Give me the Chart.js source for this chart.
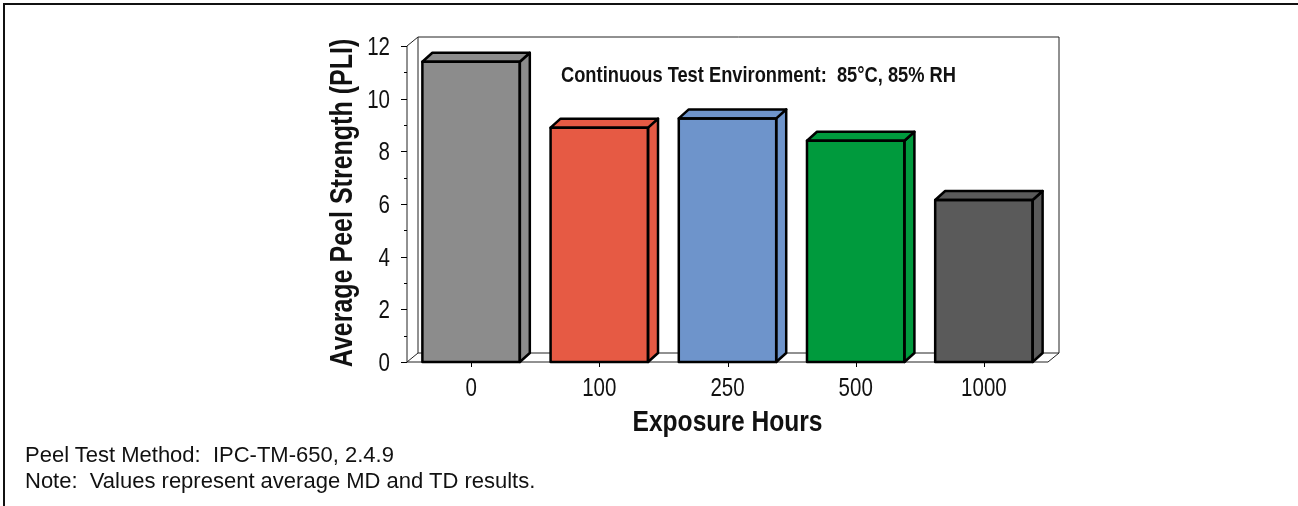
<!DOCTYPE html>
<html>
<head>
<meta charset="utf-8">
<script src="https://cdn.jsdelivr.net/npm/chart.js@4.4.1/dist/chart.umd.min.js"></script>
<style>
  html, body { margin: 0; padding: 0; background: #fff; }
  #wrap { position: relative; width: 1298px; height: 506px; overflow: hidden; }
  #frame { position: absolute; left: 3px; top: 3px; right: -10px; bottom: -10px;
    border-top: 2px solid #111; border-left: 2px solid #111; }
  canvas { position: absolute; left: 0; top: 0; }
  .note { position: absolute; left: 25px; font-family: "Liberation Sans", Arial, sans-serif;
    font-size: 22px; line-height: 26px; color: #111; white-space: pre; }
</style>
</head>
<body>
<div id="wrap">
  <div id="frame"></div>
  <canvas id="myChart" width="1298" height="506"></canvas>
  <div class="note" style="top:442px">Peel Test Method:  IPC-TM-650, 2.4.9</div>
  <div class="note" style="top:468px">Note:  Values represent average MD and TD results.</div>
</div>
<script>
const hours = ['0', '100', '250', '500', '1000'];
const peelStrength = [11.4, 8.9, 9.25, 8.4, 6.15];
const barColors = ['#8c8c8c', '#e65a44', '#6e94cb', '#009a3d', '#5a5a5a'];
const yTicks = [0, 2, 4, 6, 8, 10, 12];
const xTitle = 'Exposure Hours';
const yTitle = 'Average Peel Strength (PLI)';
const note = 'Continuous Test Environment:  85\u00b0C, 85% RH';

// no narrow font installed, so arial-like text is squeezed to 82% width
const squeeze = 0.82;
const drawNarrow = (ctx, text, x, y, font, align, rotate) => {
  ctx.save();
  ctx.translate(x, y);
  if (rotate) ctx.rotate(-Math.PI / 2);
  ctx.scale(squeeze, 1);
  ctx.font = font;
  ctx.fillStyle = '#111';
  ctx.textAlign = align;
  ctx.textBaseline = 'alphabetic';
  ctx.fillText(text, 0, 0);
  ctx.restore();
};

const box3d = {
  id: 'box3d',
  beforeDatasetsDraw(chart) {
    const { ctx, chartArea: a, scales: { x, y } } = chart;
    const dx = 11;
    const dy = 9;
    ctx.save();
    ctx.strokeStyle = '#222';
    ctx.lineWidth = 1;
    ctx.beginPath();
    // back wall
    ctx.moveTo(a.left + dx, a.bottom - dy);
    ctx.lineTo(a.left + dx, a.top - dy);
    ctx.lineTo(a.right + dx, a.top - dy);
    ctx.lineTo(a.right + dx, a.bottom - dy);
    ctx.lineTo(a.left + dx, a.bottom - dy);
    // side wall and floor edges
    ctx.moveTo(a.left, a.top);
    ctx.lineTo(a.left + dx, a.top - dy);
    ctx.moveTo(a.left, a.bottom);
    ctx.lineTo(a.left + dx, a.bottom - dy);
    ctx.moveTo(a.right, a.bottom);
    ctx.lineTo(a.right + dx, a.bottom - dy);
    // axes
    ctx.moveTo(a.left, a.top);
    ctx.lineTo(a.left, a.bottom);
    ctx.lineTo(a.right, a.bottom);
    ctx.stroke();

    ctx.strokeStyle = '#000';
    ctx.beginPath();
    for (let v = 0; v <= 12; v += 1) {
      const py = Math.round(y.getPixelForValue(v)) + 0.5;
      ctx.moveTo(a.left - (v % 2 === 0 ? 6 : 3), py);
      ctx.lineTo(a.left, py);
    }
    hours.forEach((h, i) => {
      const px = Math.round(x.getPixelForValue(i)) + 0.5;
      ctx.moveTo(px, a.bottom);
      ctx.lineTo(px, a.bottom + 5);
    });
    ctx.stroke();
    ctx.restore();
  },
  afterDatasetsDraw(chart) {
    const { ctx, chartArea: a, scales: { x, y } } = chart;
    const dx = 10;
    const dy = 9;
    const meta = chart.getDatasetMeta(0);
    ctx.save();
    ctx.lineWidth = 2.5;
    ctx.lineJoin = 'round';
    ctx.strokeStyle = '#000';
    meta.data.forEach((bar, i) => {
      const l = bar.x - bar.width / 2;
      const r = bar.x + bar.width / 2;
      const t = bar.y;
      const b = bar.base;
      ctx.fillStyle = barColors[i];
      // side face
      ctx.beginPath();
      ctx.moveTo(r, t);
      ctx.lineTo(r + dx, t - dy);
      ctx.lineTo(r + dx, b - dy);
      ctx.lineTo(r, b);
      ctx.closePath();
      ctx.fill();
      ctx.stroke();
      // top face
      ctx.beginPath();
      ctx.moveTo(l, t);
      ctx.lineTo(l + dx, t - dy);
      ctx.lineTo(r + dx, t - dy);
      ctx.lineTo(r, t);
      ctx.closePath();
      ctx.fill();
      ctx.stroke();
      // front outline
      ctx.strokeRect(l, t, r - l, b - t);
    });
    ctx.restore();

    // tick labels and titles
    const tickFont = "25px 'Liberation Sans', Arial, sans-serif";
    yTicks.forEach((v) => {
      drawNarrow(ctx, String(v), a.left - 17, y.getPixelForValue(v) + 9, tickFont, 'right');
    });
    hours.forEach((h, i) => {
      drawNarrow(ctx, h, x.getPixelForValue(i), a.bottom + 34, tickFont, 'center');
    });
    drawNarrow(ctx, xTitle, (a.left + a.right) / 2, a.bottom + 69, "bold 30px 'Liberation Sans', Arial, sans-serif", 'center');
    drawNarrow(ctx, yTitle, a.left - 55, (a.top + a.bottom) / 2 - 1, "bold 30.5px 'Liberation Sans', Arial, sans-serif", 'center', true);
    drawNarrow(ctx, note, a.left + 154, y.getPixelForValue(10.95) + 8,
      "bold 22.3px 'Liberation Sans', Arial, sans-serif", 'left');
  },
};

new Chart('myChart', {
  type: 'bar',
  data: {
    labels: hours,
    datasets: [
      {
        data: peelStrength,
        backgroundColor: barColors,
        borderWidth: 0,
        categoryPercentage: 1,
        barPercentage: 0.76,
      },
    ],
  },
  options: {
    responsive: false,
    animation: false,
    devicePixelRatio: 1,
    layout: { padding: { left: 0, right: 250, top: 46, bottom: 0 } },
    plugins: { legend: { display: false }, tooltip: { enabled: false } },
    scales: {
      x: {
        grid: { display: false, drawTicks: false },
        border: { display: false },
        ticks: { display: false },
        afterFit: (scale) => { scale.height = 144; },
      },
      y: {
        min: 0,
        max: 12,
        afterBuildTicks: (scale) => { scale.ticks = yTicks.map((v) => ({ value: v })); },
        grid: { display: false, drawTicks: false },
        border: { display: false },
        ticks: { display: false },
        afterFit: (scale) => { scale.width = 407; },
      },
    },
  },
  plugins: [box3d],
});
</script>
</body>
</html>
